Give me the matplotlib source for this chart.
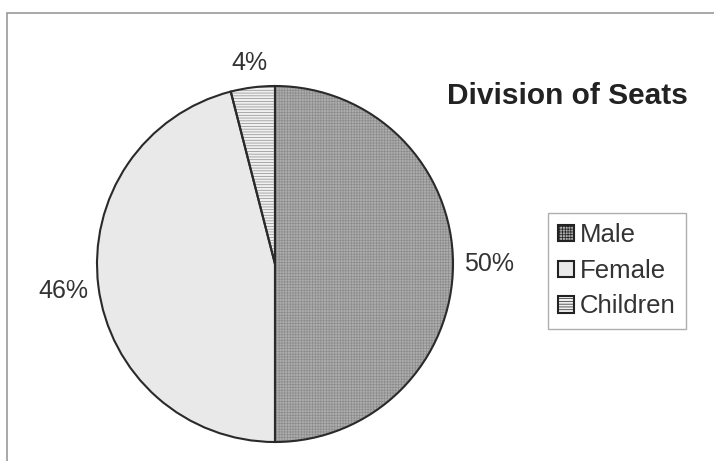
import numpy as np
import matplotlib.pyplot as plt
from matplotlib.patches import Patch, Rectangle

# seat shares
labels = ["Male", "Female", "Children"]
shares = [50, 46, 4]
faces = ["#adadad", "#e9e9e9", "#f0f0f0"]
hatches = ["++++++", "", "------"]

plt.rcParams["font.family"] = ["Liberation Sans", "DejaVu Sans"]
plt.rcParams["hatch.color"] = "#8c8c8c"
plt.rcParams["hatch.linewidth"] = 0.5

W, H = 714, 461
fig = plt.figure(figsize=(W / 100, H / 100), dpi=100)
ax = fig.add_axes([0, 0, 1, 1])

# outer frame (top and left edges visible)
fig.patches.append(Rectangle((7 / W, -0.1), 1.2, 1.1 - 13 / H,
                             transform=fig.transFigure, fill=False,
                             edgecolor="#9a9a9a", linewidth=1.2))

cx, cy, r = 275, H - 264, 178

# filled wedges with hatching
wedges, texts, pcts = ax.pie(shares, colors=faces, startangle=90,
                             counterclock=False, center=(cx, cy), radius=r,
                             autopct="%d%%", pctdistance=1.2,
                             wedgeprops=dict(linewidth=0),
                             textprops=dict(fontsize=18, color="#333333"))
for w, h in zip(wedges, hatches):
    w.set_hatch(h)

# small slice label sits a bit closer to the rim
w = wedges[2]
mid = np.radians((w.theta1 + w.theta2) / 2)
pcts[2].set_position((cx + 1.14 * r * np.cos(mid), cy + 1.14 * r * np.sin(mid)))

# outlines
ax.pie(shares, startangle=90, counterclock=False, center=(cx, cy), radius=r,
       wedgeprops=dict(fill=False, edgecolor="#2a2a2a", linewidth=1.5))
ax.set_xlim(0, W)
ax.set_ylim(0, H)
ax.set_aspect("equal")
ax.axis("off")

fig.text(567 / W, 1 - 96 / H, "Division of Seats", fontsize=21.5,
         fontweight="bold", color="#222222", ha="center", va="center")

handles = [Patch(facecolor=f, hatch=h, edgecolor="#222222", linewidth=1.5)
           for f, h in zip(faces, hatches)]
leg = fig.legend(handles, labels, loc="upper left",
                 bbox_to_anchor=(548 / W, 1 - 213 / H), fontsize=18.5,
                 frameon=True, fancybox=False, handlelength=0.6,
                 handleheight=0.6, handletextpad=0.25, labelspacing=0.45,
                 borderpad=0.4, borderaxespad=0, labelcolor="#333333")
leg.get_frame().set_edgecolor("#9a9a9a")
leg.get_frame().set_linewidth(1.0)

fig.savefig("out.png", dpi=100)
